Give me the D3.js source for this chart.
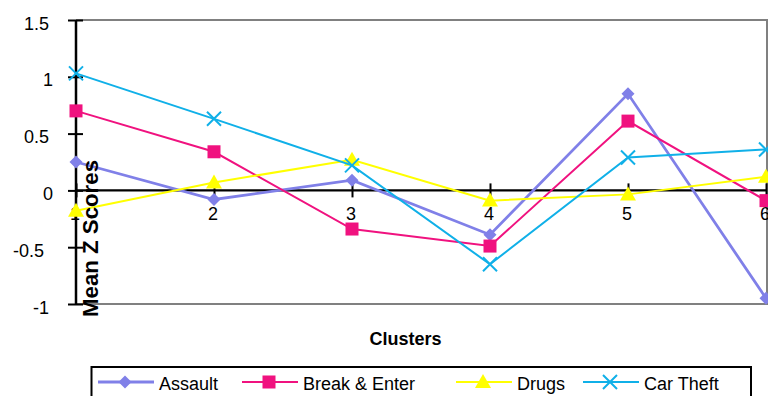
<!DOCTYPE html>
<html>
<head>
<meta charset="utf-8">
<script src="https://cdn.jsdelivr.net/npm/d3@7"></script>
<style>
  html, body { margin: 0; padding: 0; background: #fff; }
  svg { display: block; }
  text { font-family: "Liberation Sans", Arial, sans-serif; }
</style>
</head>
<body>
<svg id="chart" width="768" height="396"></svg>
<script>
// Cluster numbers along the x axis
const clusters = [1, 2, 3, 4, 5, 6];
// Mean z scores per offence type for each cluster
const assault     = [0.25, -0.08, 0.09, -0.39, 0.85, -0.95];
const breakEnter  = [0.70, 0.34, -0.34, -0.49, 0.61, -0.09];
const drugs       = [-0.18, 0.07, 0.27, -0.09, -0.035, 0.12];
const carTheft    = [1.03, 0.63, 0.22, -0.65, 0.29, 0.36];
const seriesNames = ["Assault", "Break & Enter", "Drugs", "Car Theft"];
const yTicks = [-1, -0.5, 0, 0.5, 1, 1.5];

const series = [
  { name: seriesNames[0], values: assault,    color: "#8080e8", width: 2.8, marker: "diamond" },
  { name: seriesNames[1], values: breakEnter, color: "#f0127f", width: 2,   marker: "square" },
  { name: seriesNames[2], values: drugs,      color: "#ffff00", width: 2,   marker: "triangle" },
  { name: seriesNames[3], values: carTheft,   color: "#10b0e8", width: 2,   marker: "cross" }
];

const svg = d3.select("#chart");
const plotL = 76, plotR = 767, plotT = 20, plotB = 304;

const x = d3.scaleLinear().domain([1, 6]).range([plotL, plotR - 1]);
const y = d3.scaleLinear().domain([-1, 1.5]).range([plotB, plotT]);

// Plot area frame (grey on top, right, bottom)
svg.append("path")
  .attr("d", `M${plotL},${plotT}H${plotR}V${plotB}H${plotL}`)
  .attr("fill", "none").attr("stroke", "#808080").attr("stroke-width", 2);

// Y axis with crossing ticks; label right edges follow the value-axis text layout
const labelNudge = v => (v === 0 || v === 1) ? 4 : (v === -0.5 ? -5 : 0);
const yAxis = svg.append("g").attr("transform", `translate(${plotL},0)`)
  .call(d3.axisLeft(y).tickValues(yTicks).tickSize(0).tickFormat(d => String(d)));
yAxis.select(".domain").remove();
yAxis.selectAll("text").attr("x", d => -27 + labelNudge(d)).attr("dy", "0.5em")
  .style("font-size", "18px").attr("fill", "#000");
yAxis.selectAll(".tick").append("line")
  .attr("x1", -8).attr("x2", 7).attr("stroke", "#000").attr("stroke-width", 2);
svg.append("line").attr("x1", plotL).attr("x2", plotL).attr("y1", plotT).attr("y2", plotB)
  .attr("stroke", "#000").attr("stroke-width", 2.5);

// Zero line carrying the cluster labels
const xAxis = svg.append("g").attr("transform", `translate(0,${y(0)})`)
  .call(d3.axisBottom(x).tickValues(clusters).tickSize(0).tickFormat(d3.format("d")));
xAxis.select(".domain").remove();
xAxis.selectAll("text").attr("y", 30).attr("x", -1.5).attr("dy", 0)
  .style("font-size", "18px").attr("fill", "#000");
xAxis.selectAll(".tick").append("line")
  .attr("y1", -7).attr("y2", 7).attr("stroke", "#000").attr("stroke-width", 2);
svg.append("line").attr("x1", plotL).attr("x2", plotR).attr("y1", y(0)).attr("y2", y(0))
  .attr("stroke", "#000").attr("stroke-width", 2.2);

// Marker shapes
function drawMarker(g, type, cx, cy, color) {
  if (type === "diamond") {
    g.append("path").attr("d", `M${cx},${cy-6.5}L${cx+6.5},${cy}L${cx},${cy+6.5}L${cx-6.5},${cy}Z`).attr("fill", color);
  } else if (type === "square") {
    g.append("rect").attr("x", cx-6.5).attr("y", cy-6.5).attr("width", 13).attr("height", 13).attr("fill", color);
  } else if (type === "triangle") {
    g.append("path").attr("d", `M${cx},${cy-8}L${cx+8},${cy+6}L${cx-8},${cy+6}Z`).attr("fill", color);
  } else if (type === "cross") {
    g.append("path").attr("d", `M${cx-7},${cy-7}L${cx+7},${cy+7}M${cx-7},${cy+7}L${cx+7},${cy-7}`)
      .attr("stroke", color).attr("stroke-width", 2).attr("fill", "none");
  }
}

const plot = svg.append("g");
const line = d3.line().x((d, i) => x(clusters[i])).y(d => y(d));
series.forEach(s => {
  const g = plot.append("g");
  g.append("path").datum(s.values).attr("d", line)
    .attr("fill", "none").attr("stroke", s.color).attr("stroke-width", s.width);
  s.values.forEach((v, i) => drawMarker(g, s.marker, x(clusters[i]), y(v), s.color));
});

// Axis titles
svg.append("text")
  .attr("transform", `translate(98,${(317 + 160) / 2}) rotate(-90)`)
  .attr("text-anchor", "middle")
  .attr("textLength", 157).attr("lengthAdjust", "spacingAndGlyphs")
  .style("font-weight", "bold").style("font-size", "22px")
  .text("Mean Z Scores");

svg.append("text").attr("x", 405.5).attr("y", 345).attr("text-anchor", "middle")
  .style("font-weight", "bold").style("font-size", "18px").text("Clusters");

// Legend
const legend = svg.append("g");
legend.append("rect").attr("x", 91.5).attr("y", 367).attr("width", 659.5).attr("height", 40)
  .attr("fill", "#fff").attr("stroke", "#000").attr("stroke-width", 2);
const legendX = [98, 242, 456, 583];
series.forEach((s, i) => {
  const lx = legendX[i], ly = 382;
  legend.append("line").attr("x1", lx).attr("x2", lx + 56).attr("y1", ly).attr("y2", ly)
    .attr("stroke", s.color).attr("stroke-width", s.width);
  drawMarker(legend, s.marker, lx + 27, ly, s.color);
  legend.append("text").attr("x", lx + 61).attr("y", 390)
    .style("font-size", "18px").text(s.name);
});
</script>
</body>
</html>
